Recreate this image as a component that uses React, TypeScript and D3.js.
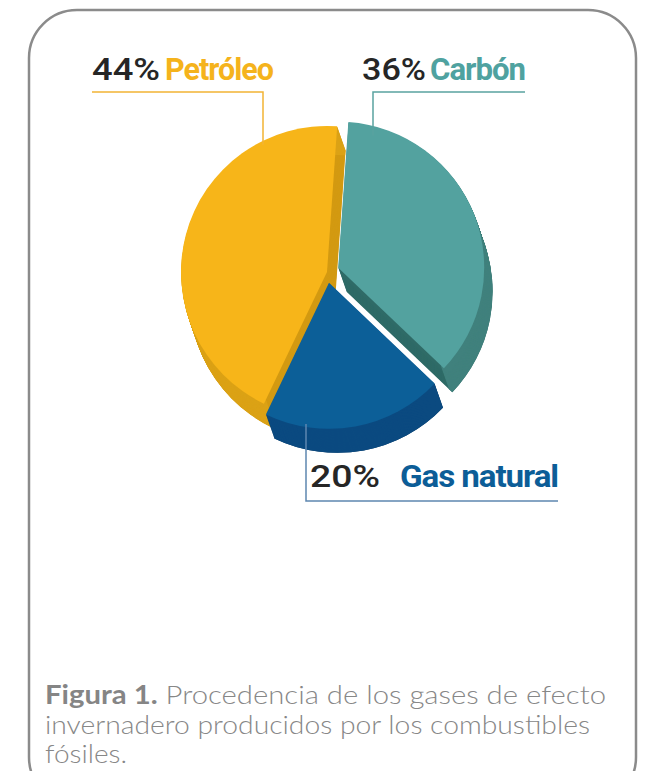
import * as d3 from 'd3';

// slice data (clockwise from the top)
const categories = ['Carbón', 'Gas natural', 'Petróleo'];
const shares = [36, 20, 44];
const percentLabels = ['36%', '20%', '44%'];
const captionLines = [
  'Procedencia de los gases de efecto',
  'invernadero producidos por los combustibles',
  'fósiles.',
];

const W = 649;
const H = 771;

const topColor: Record<string, string> = {
  'Carbón': '#53a29f',
  'Gas natural': '#0c5f98',
  'Petróleo': '#f7b519',
};
const sideColor: Record<string, string> = {
  'Carbón': '#2f6b67',
  'Gas natural': '#063760',
  'Petróleo': '#d39a12',
};
const rimColor: Record<string, string> = {
  'Carbón': '#40817d',
  'Gas natural': '#0b4a80',
  'Petróleo': '#dba216',
};
// explode distance for each slice
const explode: Record<string, number> = {
  'Carbón': 12,
  'Gas natural': 11,
  'Petróleo': 0,
};

export default function App() {
  const cx = 327;
  const cy = 272;
  const R = 146;
  const depth = 24;
  const skew = 0.35;

  const start = (4 * Math.PI) / 180;
  const pie = d3
    .pie<number>()
    .sort(null)
    .startAngle(start)
    .endAngle(start + 2 * Math.PI);
  const slices = pie(shares).map((s, i) => ({ ...s, name: categories[i] }));

  const arc = d3.arc<any>().innerRadius(0).outerRadius(R);
  const rim = d3.arc<any>().innerRadius(R - 5).outerRadius(R);

  // back to front
  const order = ['Carbón', 'Petróleo', 'Gas natural'];
  const drawn = order.map((n) => slices.find((s) => s.name === n)!);

  const offset = (s: any) => {
    const mid = (s.startAngle + s.endAngle) / 2;
    const e = explode[s.name];
    return [Math.sin(mid) * e, -Math.cos(mid) * e];
  };

  const layers = d3.range(depth, 0, -1);

  // top edge of the pie at a given x (for the leader lines)
  const topAt = (x: number) => cy - Math.sqrt(R * R - (x - cx) * (x - cx));

  const labelFont = "Roboto, 'Liberation Sans', sans-serif";

  return (
    <svg
      width={W}
      height={H}
      style={{ position: 'absolute', left: 0, top: 0, background: '#fff' }}
    >
      <rect
        x={29}
        y={10}
        width={607}
        height={795}
        rx={48}
        ry={48}
        fill="#fff"
        stroke="#8b8b8b"
        strokeWidth={2.5}
      />

      {drawn.map((s) => {
        const [ox, oy] = offset(s);
        return (
          <g key={s.name} transform={`translate(${cx + ox},${cy + oy})`}>
            {layers.map((k) => (
              <path
                key={'s' + k}
                d={arc(s)!}
                transform={`translate(${k * skew},${k})`}
                fill={sideColor[s.name]}
              />
            ))}
            {layers.map((k) => (
              <path
                key={'r' + k}
                d={rim(s)!}
                transform={`translate(${k * skew},${k})`}
                fill={rimColor[s.name]}
              />
            ))}
            <path d={arc(s)!} fill={topColor[s.name]} />
          </g>
        );
      })}

      {/* leader lines */}
      <polyline
        points={`92,92 263,92 263,${topAt(263) + 4}`}
        fill="none"
        stroke="#f2b435"
        strokeWidth={1.5}
      />
      <polyline
        points={`525,92 373,92 373,${topAt(373) + 2}`}
        fill="none"
        stroke="#5aa3a0"
        strokeWidth={1.5}
      />
      <polyline
        points={`306,${cy + R + 6} 306,501 558,501`}
        fill="none"
        stroke="#5d86b0"
        strokeWidth={1.5}
      />

      {/* labels */}
      <g fontFamily={labelFont}>
        <text x={92} y={80} fontSize={32} fontWeight={500} fill="#262626" textLength={68} lengthAdjust="spacingAndGlyphs">
          {percentLabels[2]}
        </text>
        <text x={165} y={80} fontSize={31} fontWeight={700} fill="#f5b31c" textLength={108} lengthAdjust="spacingAndGlyphs" letterSpacing={-1}>
          {categories[2]}
        </text>
        <text x={362} y={80} fontSize={32} fontWeight={500} fill="#262626" textLength={64} lengthAdjust="spacingAndGlyphs">
          {percentLabels[0]}
        </text>
        <text x={430} y={80} fontSize={31} fontWeight={700} fill="#4fa2a0" textLength={95} lengthAdjust="spacingAndGlyphs" letterSpacing={-1}>
          {categories[0]}
        </text>
        <text x={310} y={487} fontSize={31} fontWeight={500} fill="#262626" textLength={70} lengthAdjust="spacingAndGlyphs">
          {percentLabels[1]}
        </text>
        <text x={400} y={487} fontSize={31} fontWeight={700} fill="#0c5d97" textLength={158} lengthAdjust="spacingAndGlyphs" letterSpacing={-1}>
          {categories[1]}
        </text>
      </g>

      {/* caption */}
      <g fontFamily="Lato, 'Open Sans', sans-serif" fontSize={26} fill="#878787">
        <text x={45} y={704} textLength={561} lengthAdjust="spacingAndGlyphs">
          <tspan fontWeight={700} fill="#858585">Figura 1.</tspan>
          <tspan fontWeight={300}> {captionLines[0]}</tspan>
        </text>
        <text x={45} y={734} fontWeight={300} textLength={545} lengthAdjust="spacingAndGlyphs">
          {captionLines[1]}
        </text>
        <text x={45} y={763} fontWeight={300} textLength={82} lengthAdjust="spacingAndGlyphs">
          {captionLines[2]}
        </text>
      </g>
    </svg>
  );
}
